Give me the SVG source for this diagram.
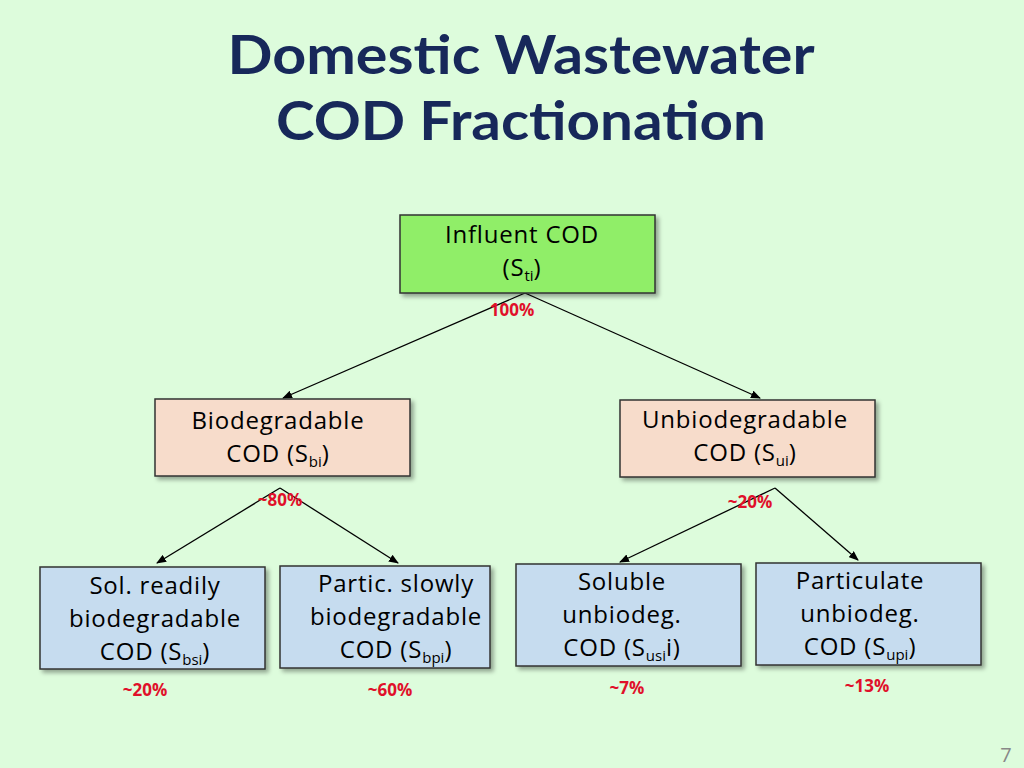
<svg xmlns="http://www.w3.org/2000/svg" width="1024" height="768" viewBox="0 0 1024 768">
<defs>
<marker id="ah" markerWidth="10" markerHeight="8" refX="9" refY="4" orient="auto" markerUnits="userSpaceOnUse"><path d="M0,0 L10,4 L0,8 z" fill="#000"/></marker>
<filter id="sh" x="-10%" y="-10%" width="130%" height="140%"><feDropShadow dx="3" dy="3" stdDeviation="2" flood-color="#000" flood-opacity="0.35"/></filter>
</defs>
<style>
.t{font-family:"Open Sans","Liberation Sans",sans-serif;font-size:24px;fill:#000;text-anchor:middle;letter-spacing:0.8px}
.s{font-size:15px;letter-spacing:0}
.p{font-family:"Open Sans","Liberation Sans",sans-serif;font-size:17px;font-weight:bold;fill:#e0102a;text-anchor:middle}
.b{stroke:#333;stroke-width:1.5;filter:url(#sh)}
.c{stroke:#000;stroke-width:1.3;fill:none;marker-end:url(#ah)}
</style>
<rect width="1024" height="768" fill="#ddfcdc"/>
<text x="521" y="74" font-family="Lato,'Liberation Sans',sans-serif" font-weight="bold" font-size="54" fill="#17285a" text-anchor="middle" textLength="587" lengthAdjust="spacingAndGlyphs">Domestic Wastewater</text>
<text x="521" y="140" font-family="Lato,'Liberation Sans',sans-serif" font-weight="bold" font-size="54" fill="#17285a" text-anchor="middle" textLength="490" lengthAdjust="spacingAndGlyphs">COD Fractionation</text>
<g id="connectors">
<line class="c" x1="525" y1="293" x2="283" y2="398"/>
<line class="c" x1="525" y1="293" x2="760" y2="398"/>
<line class="c" x1="280" y1="488" x2="157" y2="563"/>
<line class="c" x1="280" y1="488" x2="398" y2="563"/>
<line class="c" x1="775" y1="488" x2="620" y2="562"/>
<line class="c" x1="775" y1="488" x2="858" y2="560"/>
</g>
<g id="influent"><rect class="b" x="400" y="215" width="255" height="78" fill="#90ee68"/>
<text class="t" x="522" y="243">Influent COD</text><text class="t" x="522" y="276">(S<tspan class="s" dy="5">ti</tspan><tspan dy="-5">)</tspan></text>
<text class="p" x="512" y="316">100%</text></g>
<g id="bio"><rect class="b" x="155" y="399" width="255" height="77" fill="#f7dccb"/>
<text class="t" x="278" y="429">Biodegradable</text><text class="t" x="278" y="462">COD (S<tspan class="s" dy="5">bi</tspan><tspan dy="-5">)</tspan></text>
<text class="p" x="280" y="506">~80%</text></g>
<g id="unbio"><rect class="b" x="620" y="400" width="255" height="77" fill="#f7dccb"/>
<text class="t" x="745" y="428">Unbiodegradable</text><text class="t" x="745" y="461">COD (S<tspan class="s" dy="5">ui</tspan><tspan dy="-5">)</tspan></text>
<text class="p" x="750" y="508">~20%</text></g>
<g id="sbsi"><rect class="b" x="40" y="567" width="225" height="102" fill="#c6dcef"/>
<text class="t" x="155" y="594">Sol. readily</text><text class="t" x="155" y="627">biodegradable</text><text class="t" x="155" y="660">COD (S<tspan class="s" dy="5">bsi</tspan><tspan dy="-5">)</tspan></text>
<text class="p" x="145" y="696">~20%</text></g>
<g id="sbpi"><rect class="b" x="280" y="566" width="210" height="102" fill="#c6dcef"/>
<text class="t" x="396" y="592">Partic. slowly</text><text class="t" x="396" y="625">biodegradable</text><text class="t" x="396" y="658">COD (S<tspan class="s" dy="5">bpi</tspan><tspan dy="-5">)</tspan></text>
<text class="p" x="390" y="696">~60%</text></g>
<g id="susi"><rect class="b" x="516" y="564" width="225" height="102" fill="#c6dcef"/>
<text class="t" x="622" y="590">Soluble</text><text class="t" x="622" y="623">unbiodeg.</text><text class="t" x="622" y="656">COD (S<tspan class="s" dy="5">usi</tspan><tspan dy="-5">i)</tspan></text>
<text class="p" x="627" y="694">~7%</text></g>
<g id="supi"><rect class="b" x="756" y="563" width="225" height="102" fill="#c6dcef"/>
<text class="t" x="860" y="589">Particulate</text><text class="t" x="860" y="622">unbiodeg.</text><text class="t" x="860" y="655">COD (S<tspan class="s" dy="5">upi</tspan><tspan dy="-5">)</tspan></text>
<text class="p" x="867" y="692">~13%</text></g>
<text x="1006" y="762" font-family="'Open Sans','Liberation Sans',sans-serif" font-size="20" fill="#888" text-anchor="middle">7</text>
</svg>
